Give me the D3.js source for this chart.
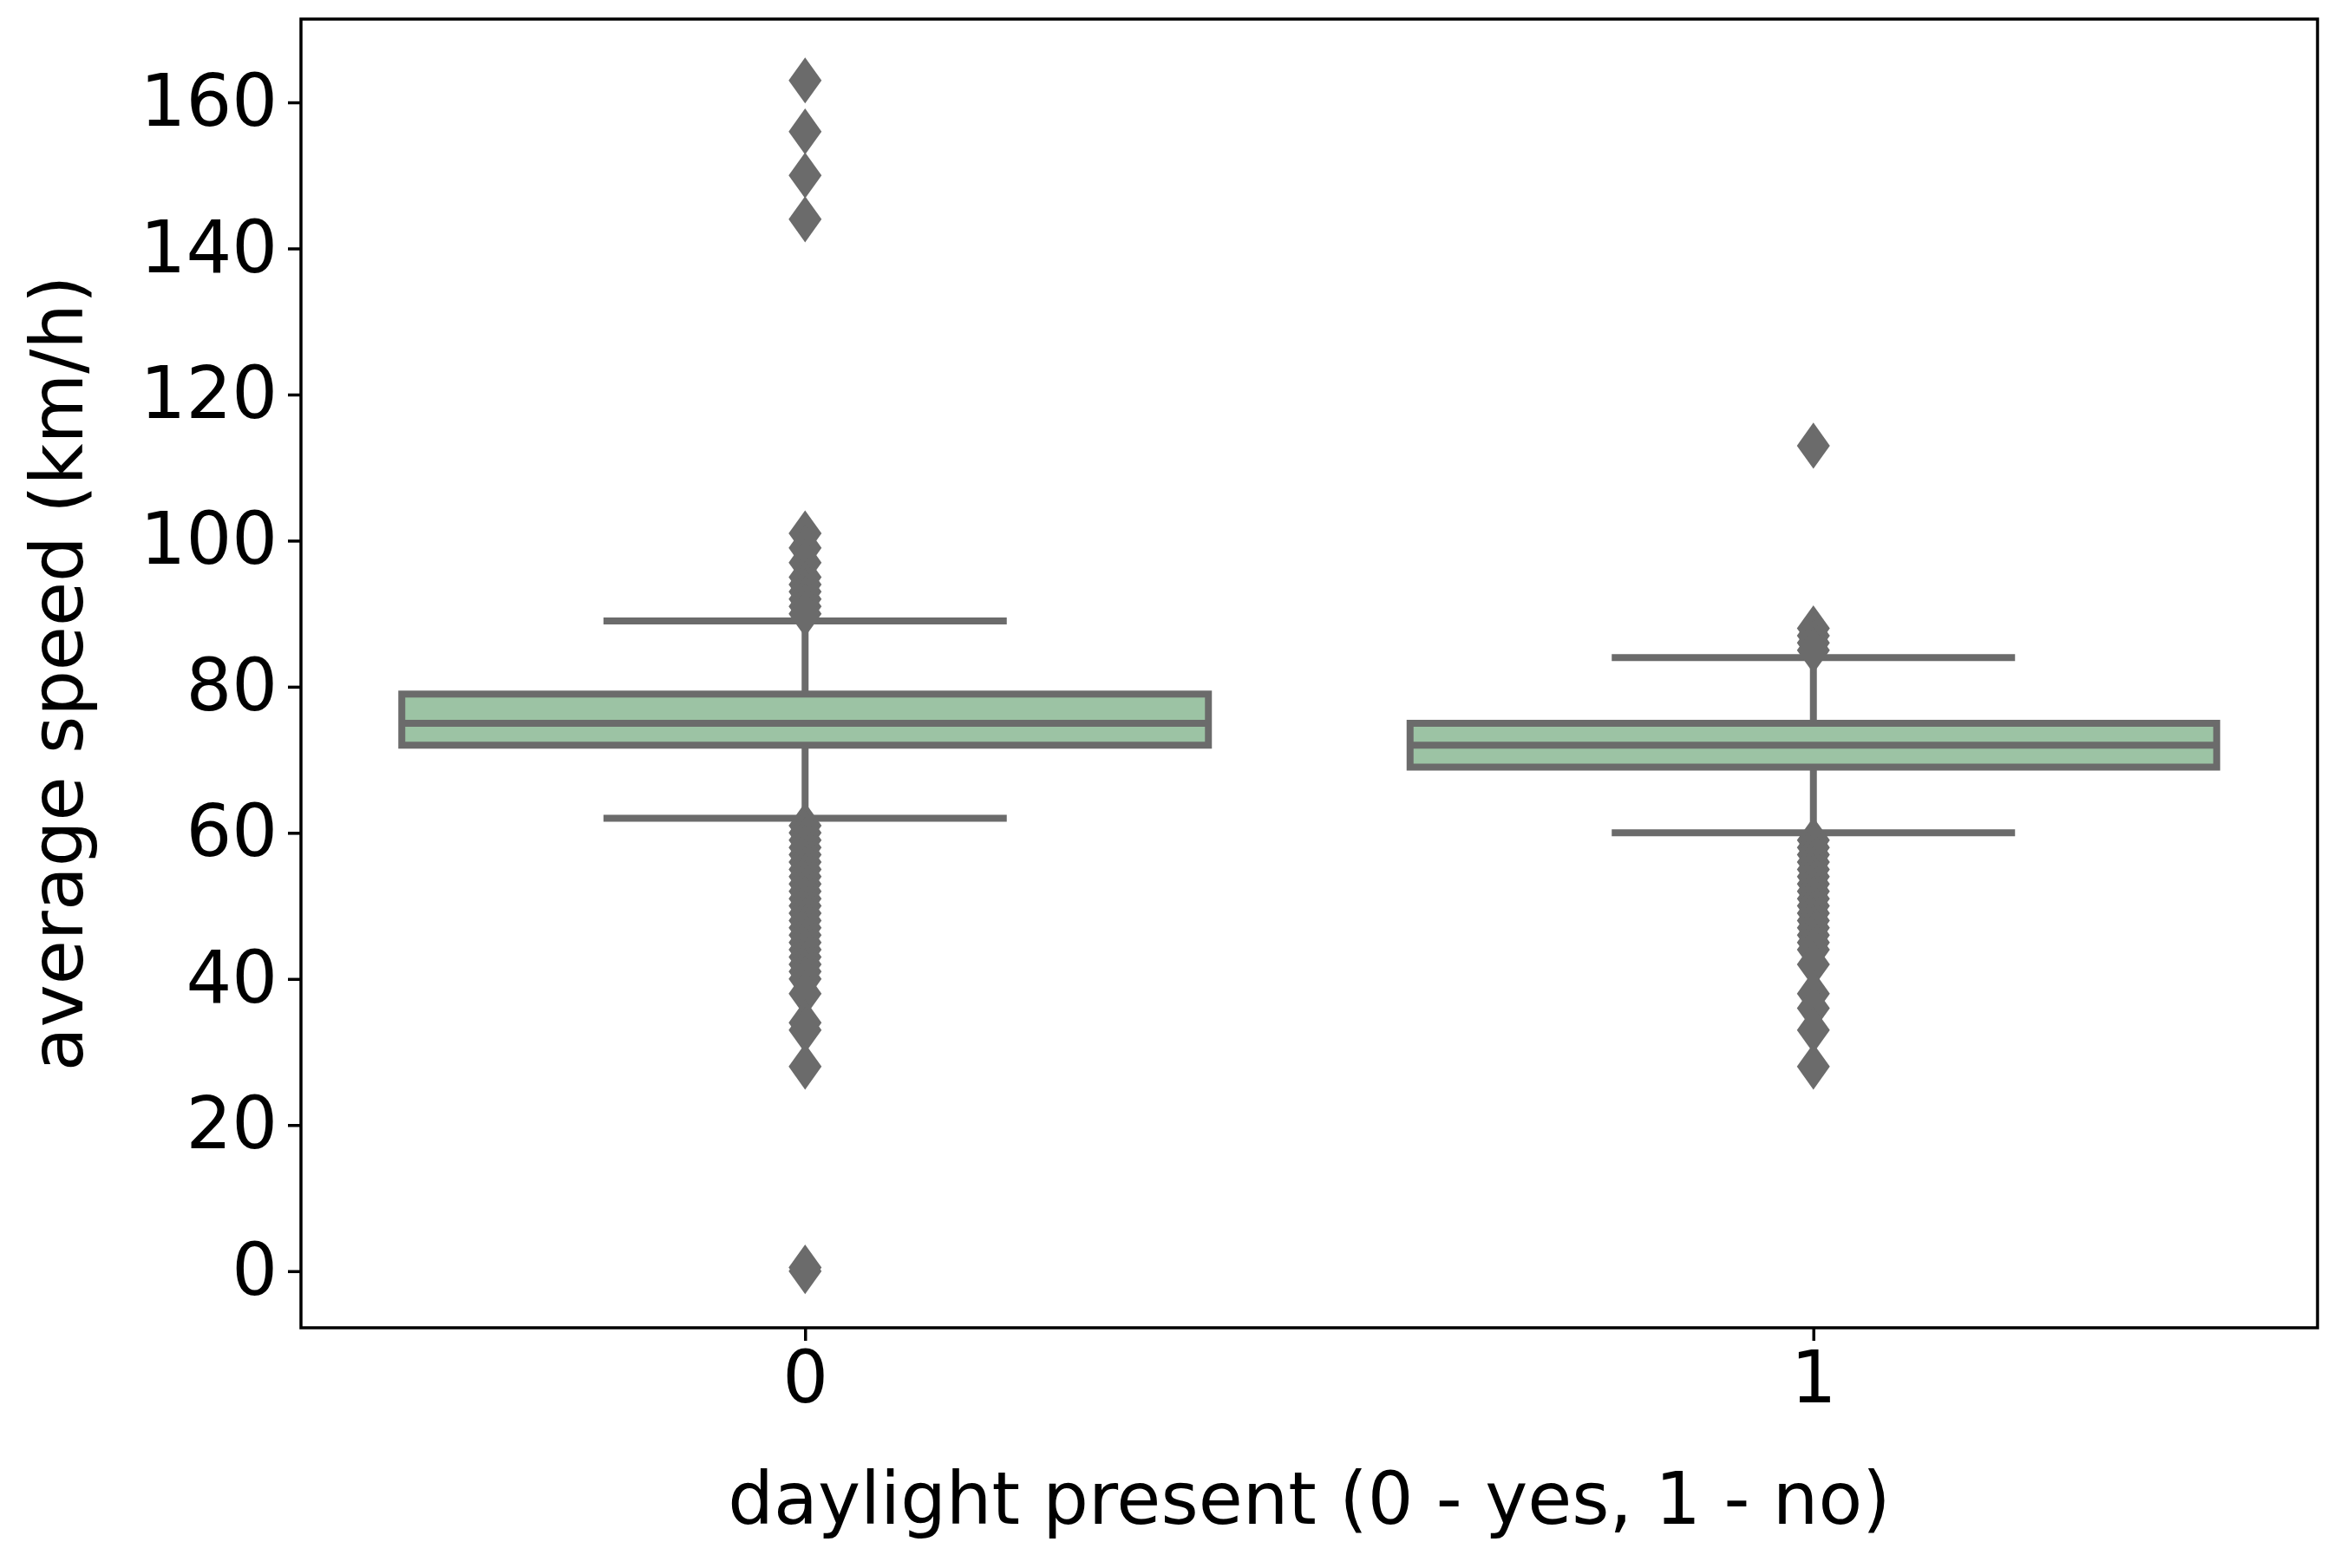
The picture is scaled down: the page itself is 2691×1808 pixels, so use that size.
<!DOCTYPE html>
<html><head><meta charset="utf-8">
<script src="https://cdn.jsdelivr.net/npm/d3@7"></script>
<style>body{margin:0;background:#fff}</style></head>
<body><svg id="c" width="2691" height="1808"></svg>
<script>
const categories = ["0","1"];
const q1 = [72, 69];
const median = [75, 72];
const q3 = [79, 75];
const whiskLow = [62, 60];
const whiskHigh = [89, 84];
const outliers0 = [163,156,150,144,101,99,97,95,94,93,92,91,90,61,60,59,58,57,56,55,54,53,52,51,50,49,48,47,46,45,44,43,42,41,40,38,34,33,28,0.5,0];
const outliers1 = [113,88,87,86,85,59,58,57,56,55,54,53,52,51,50,49,48,47,46,45,44,42,38,36,33,28];
const outliers = [outliers0, outliers1];
const yTicks = [0,20,40,60,80,100,120,140,160];

const L=347,R=2672,T=22,B=1531;
const svg=d3.select("#c");
const x=d3.scaleLinear().domain([-0.5,1.5]).range([L,R]);
const y=d3.scaleLinear().domain([-7.75,171.4]).range([B,T]);
const col="#6b6b6b", fill="#9cc3a4";
const font="DejaVu Sans, sans-serif";
const fs=83;

categories.forEach((c,i)=>{
  const g=svg.append("g");
  g.append("line").attr("x1",x(i)).attr("x2",x(i)).attr("y1",y(whiskLow[i])).attr("y2",y(q1[i])).attr("stroke",col).attr("stroke-width",8);
  g.append("line").attr("x1",x(i)).attr("x2",x(i)).attr("y1",y(q3[i])).attr("y2",y(whiskHigh[i])).attr("stroke",col).attr("stroke-width",8);
  [whiskLow[i],whiskHigh[i]].forEach(v=>g.append("line").attr("x1",x(i-0.2)).attr("x2",x(i+0.2)).attr("y1",y(v)).attr("y2",y(v)).attr("stroke",col).attr("stroke-width",8));
  g.append("rect").attr("x",x(i-0.4)).attr("width",x(i+0.4)-x(i-0.4)).attr("y",y(q3[i])).attr("height",y(q1[i])-y(q3[i])).attr("fill",fill).attr("stroke",col).attr("stroke-width",8);
  g.append("line").attr("x1",x(i-0.4)).attr("x2",x(i+0.4)).attr("y1",y(median[i])).attr("y2",y(median[i])).attr("stroke",col).attr("stroke-width",8);
  const s=19;
  g.selectAll("path.o").data(outliers[i]).join("path")
   .attr("d",d=>`M${x(i)},${y(d)-s*1.4}L${x(i)+s},${y(d)}L${x(i)},${y(d)+s*1.4}L${x(i)-s},${y(d)}Z`)
   .attr("fill",col);
});

svg.append("rect").attr("x",L).attr("y",T).attr("width",R-L).attr("height",B-T).attr("fill","none").attr("stroke","#000").attr("stroke-width",3.5);
const ya=svg.append("g").attr("transform",`translate(${L},0)`).call(d3.axisLeft(y).tickValues(yTicks).tickSize(15).tickPadding(12));
const xa=svg.append("g").attr("transform",`translate(0,${B})`).call(d3.axisBottom(x).tickValues([0,1]).tickFormat(d=>categories[d]).tickSize(15).tickPadding(12));
[ya,xa].forEach(a=>{a.select(".domain").remove();a.selectAll("line").attr("stroke","#000").attr("stroke-width",3.5);
 a.selectAll("text").attr("font-family",font).attr("font-size",fs).attr("fill","#000");});
svg.append("text").attr("x",(L+R)/2).attr("y",1757).attr("text-anchor","middle").attr("font-family",font).attr("font-size",fs).text("daylight present (0 - yes, 1 - no)");
svg.append("text").attr("transform",`translate(95,${(T+B)/2}) rotate(-90)`).attr("text-anchor","middle").attr("font-family",font).attr("font-size",fs).text("average speed (km/h)");
</script></body></html>
